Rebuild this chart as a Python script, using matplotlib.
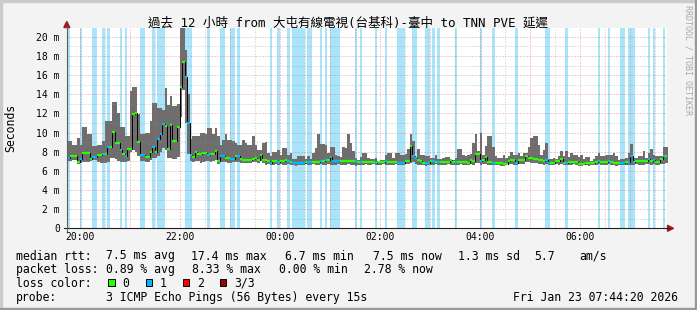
import numpy as np
from matplotlib import pyplot as plt
from matplotlib.patches import Polygon, Rectangle
from matplotlib.lines import Line2D

plt.rcParams['font.family'] = ['DejaVu Sans Mono', 'Noto Sans CJK TC']
plt.rcParams['lines.scale_dashes'] = False

W, H = 697, 310

# 3 minute steps, first step starts 19:45 (hours relative to 20:00), values in ms
t_first = -0.25
step_h = 0.05
rtt_hi = [
    9.1, 9.1, 8.7, 8.7, 9.4, 8.7, 10.6, 10.6, 9.8, 9.8,
    8.6, 8.6, 8.7, 8.7, 9.1, 11.2, 11.2, 11.2, 13.2, 13.2,
    12.0, 10.6, 10.6, 9.6, 9.6, 14.3, 14.8, 14.8, 11.9, 9.8,
    9.8, 10.0, 10.0, 11.2, 13.1, 13.1, 12.6, 12.6, 12.4, 14.7,
    12.9, 13.8, 12.8, 12.8, 13.0, 21.5, 21.5, 18.6, 14.0, 9.3,
    9.6, 9.6, 9.6, 10.0, 10.0, 9.8, 10.5, 10.5, 9.9, 10.5,
    9.6, 8.7, 9.2, 9.9, 9.2, 9.2, 9.1, 8.9, 8.7, 8.7,
    9.2, 8.9, 8.7, 8.7, 9.6, 8.7, 8.2, 8.2, 8.9, 9.0,
    7.9, 7.5, 8.0, 8.0, 8.2, 7.7, 8.4, 8.4, 7.7, 7.9,
    7.2, 7.2, 7.5, 7.6, 7.6, 7.2, 7.5, 7.2, 7.9, 8.4,
    9.9, 8.8, 8.8, 8.7, 7.9, 8.5, 8.5, 7.7, 7.5, 7.4,
    8.5, 8.4, 9.9, 8.9, 8.1, 7.3, 7.1, 7.4, 7.9, 7.9,
    7.3, 7.2, 7.2, 7.3, 7.0, 7.1, 7.1, 7.7, 7.9, 7.9,
    7.3, 7.9, 7.9, 7.7, 7.7, 7.8, 8.3, 9.8, 9.1, 7.3,
    8.3, 7.7, 7.7, 7.5, 7.5, 7.3, 7.3, 7.7, 7.2, 7.2,
    7.3, 7.4, 7.4, 7.2, 7.1, 7.3, 8.3, 8.3, 7.7, 7.6,
    7.7, 7.8, 8.9, 9.8, 8.1, 10.0, 7.7, 8.6, 9.6, 9.6,
    8.5, 7.5, 7.3, 7.3, 7.7, 7.3, 7.6, 8.0, 7.7, 7.7,
    7.9, 7.5, 7.9, 7.9, 8.5, 9.4, 9.6, 9.6, 8.7, 7.7,
    8.2, 8.9, 7.2, 7.2, 7.3, 7.2, 7.6, 8.1, 7.5, 8.1,
    7.4, 7.9, 7.7, 7.7, 7.4, 7.7, 7.2, 7.4, 7.4, 7.0,
    7.2, 7.6, 7.9, 7.5, 7.5, 7.7, 7.7, 7.7, 7.9, 7.5,
    7.1, 7.2, 7.2, 7.3, 7.9, 8.8, 7.3, 7.3, 7.5, 7.5,
    8.1, 7.3, 7.9, 8.3, 7.7, 7.6, 7.5, 7.5, 8.5, 8.5,
]
rtt_med = [
    7.3, 7.5, 7.5, 7.5, 6.9, 7.2, 7.9, 7.9, 7.9, 7.2,
    7.45, 7.45, 7.7, 7.7, 7.75, 7.75, 8.5, 8.5, 10.1, 8.9,
    8.9, 8.2, 7.75, 7.5, 8.3, 8.3, 11.9, 12.0, 9.0, 7.7,
    7.7, 7.4, 7.4, 8.0, 8.5, 8.0, 9.3, 9.9, 10.9, 10.7,
    8.3, 10.8, 9.1, 9.1, 10.6, 14.8, 17.4, 15.8, 11.0, 7.7,
    7.45, 8.0, 7.75, 7.75, 7.9, 7.9, 7.7, 7.75, 7.75, 8.1,
    7.0, 7.5, 7.5, 7.35, 7.35, 7.2, 7.2, 7.5, 7.5, 7.2,
    7.15, 7.15, 7.15, 7.15, 7.2, 7.35, 7.15, 7.7, 7.15, 7.1,
    7.0, 6.82, 7.0, 7.0, 6.9, 7.0, 7.0, 7.1, 7.0, 6.9,
    6.82, 6.82, 6.82, 6.82, 6.82, 6.9, 6.9, 6.9, 6.9, 6.9,
    6.9, 7.0, 7.0, 7.15, 7.15, 7.45, 7.0, 7.0, 7.0, 7.0,
    7.0, 7.0, 7.0, 7.0, 7.0, 7.0, 6.9, 6.9, 6.9, 6.9,
    6.9, 6.9, 6.9, 6.82, 6.9, 6.9, 6.9, 7.0, 6.9, 6.9,
    6.9, 6.9, 6.82, 6.82, 6.82, 7.0, 7.0, 8.6, 7.6, 7.35,
    7.1, 7.0, 6.82, 6.82, 6.82, 7.05, 7.0, 6.9, 6.9, 6.9,
    6.9, 6.9, 6.9, 7.15, 6.9, 6.9, 6.9, 6.9, 6.9, 6.9,
    6.82, 7.16, 7.0, 7.8, 7.8, 7.0, 7.16, 7.44, 6.89, 6.89,
    6.82, 6.82, 6.82, 6.82, 6.75, 6.75, 6.99, 7.16, 7.1, 6.82,
    7.1, 7.1, 7.1, 7.5, 7.35, 7.35, 7.25, 7.25, 7.16, 7.16,
    7.0, 7.1, 6.82, 6.82, 6.82, 7.0, 7.0, 7.25, 6.82, 6.82,
    6.89, 6.89, 6.89, 6.89, 6.75, 6.75, 6.75, 6.8, 6.8, 6.8,
    6.8, 6.89, 6.99, 6.89, 6.89, 6.89, 6.99, 6.89, 6.82, 6.82,
    6.82, 6.82, 6.82, 6.89, 6.89, 7.6, 6.89, 6.99, 6.99, 6.99,
    6.99, 6.99, 7.2, 6.99, 7.1, 6.89, 6.89, 7.2, 7.5, 7.5,
]
rtt_lo = [
    7.0, 7.0, 7.1, 7.1, 6.7, 6.8, 6.9, 6.9, 6.9, 7.0,
    7.1, 7.1, 6.9, 6.8, 6.8, 6.8, 6.9, 7.3, 7.3, 7.2,
    7.0, 6.9, 6.9, 6.9, 7.0, 8.0, 8.2, 8.0, 7.6, 7.0,
    7.0, 6.9, 6.9, 7.1, 7.3, 7.3, 7.6, 8.0, 8.4, 8.2,
    7.3, 7.3, 7.2, 7.2, 7.4, 11.6, 14.4, 11.0, 7.8, 7.0,
    6.9, 7.0, 7.0, 6.8, 6.9, 7.0, 7.0, 6.9, 7.0, 7.1,
    6.7, 6.9, 6.9, 6.9, 6.8, 6.8, 6.9, 6.9, 6.9, 6.8,
    6.8, 6.8, 6.8, 6.8, 6.9, 6.9, 6.8, 7.0, 6.8, 6.6,
    6.7, 6.6, 6.6, 6.7, 6.6, 6.7, 6.6, 6.6, 6.7, 6.6,
    6.6, 6.5, 6.6, 6.6, 6.6, 6.7, 6.6, 6.6, 6.7, 6.6,
    6.6, 6.7, 6.6, 6.6, 6.7, 6.6, 6.6, 6.6, 6.7, 6.6,
    6.6, 6.6, 6.7, 6.6, 6.6, 6.5, 6.6, 6.6, 6.6, 6.7,
    6.6, 6.6, 6.7, 6.6, 6.6, 6.6, 6.7, 6.6, 6.6, 6.6,
    6.6, 6.7, 6.6, 6.6, 6.6, 6.7, 6.7, 6.8, 6.9, 6.7,
    6.6, 6.6, 6.6, 6.5, 6.6, 6.6, 6.6, 6.7, 6.6, 6.6,
    6.6, 6.6, 6.7, 6.6, 6.6, 6.6, 6.6, 6.7, 6.6, 6.6,
    6.6, 6.7, 6.6, 6.8, 6.8, 6.6, 6.7, 6.7, 6.6, 6.6,
    6.6, 6.6, 6.6, 6.5, 6.5, 6.6, 6.7, 6.7, 6.6, 6.6,
    6.7, 6.7, 6.7, 6.9, 6.9, 6.8, 6.8, 6.8, 6.7, 6.7,
    6.6, 6.7, 6.6, 6.6, 6.6, 6.7, 6.6, 6.7, 6.6, 6.6,
    6.6, 6.6, 6.7, 6.6, 6.5, 6.5, 6.6, 6.6, 6.5, 6.6,
    6.6, 6.6, 6.7, 6.6, 6.6, 6.6, 6.7, 6.6, 6.6, 6.5,
    6.6, 6.6, 6.6, 6.6, 6.6, 6.6, 6.6, 6.7, 6.6, 6.6,
    6.6, 6.7, 6.7, 6.6, 6.7, 6.6, 6.6, 6.7, 6.7, 6.8,
]
# steps where 1 of 3 pings was lost
loss_steps = [0, 5, 10, 11, 14, 16, 21, 23, 29, 30, 34, 36, 37, 38, 47, 48, 49,
              56, 61, 62, 65, 66, 68, 81, 84, 88, 90, 91, 92, 93, 94, 96, 97,
              101, 103, 105, 106, 107, 108, 115, 117, 123, 127, 132, 133, 134,
              138, 139, 143, 144, 146, 148, 155, 165, 170, 179, 191, 192, 199,
              212, 216, 221, 222, 224, 225, 226, 232, 234, 238]
hour_ticks = [0, 2, 4, 6, 8, 10]
hour_labels = ['20:00', '22:00', '00:00', '02:00', '04:00', '06:00']

title = '過去 12 小時 from 大屯有線電視(台基科)-臺中 to TNN PVE 延遲'
stats_rtt = ['7.5 ms avg', '17.4 ms max', '6.7 ms min', '7.5 ms now', '1.3 ms sd', '5.7', 'am/s']
stats_loss = ['0.89 % avg', '8.33 % max', '0.00 % min', '2.78 % now']
loss_names = ['0', '1', '2', '3/3']
loss_colors = ['#26ff00', '#00b8ff', '#ff0000', '#a00000']


def fx(px):
    return px / W


def fy(py):
    return 1 - py / H


fig = plt.figure(figsize=(W / 100, H / 100), dpi=100)
fig.patch.set_facecolor('#f3f3f3')
ax = fig.add_axes([fx(66.8), fy(228.3), fx(667) - fx(66.8), fy(27.5) - fy(228.3)])
ax.set_facecolor('white')

x = np.arange(len(rtt_med)) * step_h + t_first
xe = np.append(x, x[-1] + step_h)
hi = np.append(rtt_hi, rtt_hi[-1])
lo = np.append(rtt_lo, rtt_lo[-1])
med = np.append(rtt_med, rtt_med[-1])

for k in loss_steps:
    ax.axvspan(x[k], x[k] + step_h, color='#aae4fa', lw=0, zorder=1)

ax.fill_between(xe, lo, hi, step='post', color='#6e6e6e', lw=0, zorder=2)

# grid
dash = (0.72, 1.44)
for v in range(1, 21, 2):
    ax.axhline(v, color=(0.55, 0.55, 0.55, 0.5), lw=0.72, dashes=dash, zorder=3)
for v in range(2, 21, 2):
    ax.axhline(v, color=(0.85, 0.3, 0.3, 0.55), lw=0.72, dashes=dash, zorder=3)
for h in np.arange(0.5, 12, 1.0):
    ax.axvline(h, color=(0.55, 0.55, 0.55, 0.5), lw=0.72, dashes=dash, zorder=3)
for h in range(0, 12):
    ax.axvline(h, color=(0.85, 0.3, 0.3, 0.55), lw=0.72, dashes=dash, zorder=3)

ax.step(xe, med, where='post', color='black', lw=0.7, zorder=4)
cols = [loss_colors[1] if k in loss_steps else loss_colors[0] for k in range(len(rtt_med))]
ax.hlines(rtt_med, x, x + step_h, colors=cols, lw=1.6, zorder=5)

ax.set_xlim(-0.2611, 11.7389)
ax.set_ylim(0, 20.97)
ax.set_xticks(hour_ticks, hour_labels)
ax.set_yticks(range(0, 21, 2), ['0'] + [f'{v} m' for v in range(2, 21, 2)])
ax.tick_params(axis='both', length=0, labelsize=7)
ax.tick_params(axis='y', pad=5.0)
ax.tick_params(axis='x', pad=3.0)
for s in ax.spines.values():
    s.set_visible(False)

# axes lines and arrows
fig.add_artist(Line2D([fx(63.8), fx(669)], [fy(228.3), fy(228.3)], color='#202020', lw=0.8))
fig.add_artist(Line2D([fx(66.8), fx(66.8)], [fy(231), fy(26)], color='#606060', lw=0.8))
fig.add_artist(Polygon([(fx(63.8), fy(27.5)), (fx(69.8), fy(27.5)), (fx(66.8), fy(21.5))],
                       closed=True, color='#9e1b1b', transform=fig.transFigure))
fig.add_artist(Polygon([(fx(667.5), fy(225.3)), (fx(667.5), fy(231.3)), (fx(673.5), fy(228.3))],
                       closed=True, color='#9e1b1b', transform=fig.transFigure))

# frame shading
fig.add_artist(Rectangle((0, fy(2)), 1, 2 / H, color='#cbcbcb', transform=fig.transFigure))
fig.add_artist(Rectangle((0, 0), 2 / W, 1, color='#cbcbcb', transform=fig.transFigure))
fig.add_artist(Rectangle((0, 0), 1, 2 / H, color='#999999', transform=fig.transFigure))
fig.add_artist(Rectangle((1 - 2 / W, 0), 2 / W, 1, color='#999999', transform=fig.transFigure))

fig.text(0.5, fy(26.5), title, ha='center', va='baseline', fontsize=9)
fig.text(fx(11), fy(127.5), 'Seconds', rotation=90, ha='center', va='center', fontsize=8.3)
fig.text(fx(688), fy(60), 'RRDTOOL / TOBI OETIKER', rotation=-90, ha='center', va='center',
         fontsize=6, color='#a8a8a8')

fs = 8.3
rows = [259.5, 273.2, 287.0, 300.8]
fig.text(fx(16), fy(rows[0]), 'median rtt:', fontsize=fs, va='baseline')
for px, s in zip([106.5, 190.8, 285.3, 373.3, 457.6, 534.6, 579.5], stats_rtt):
    fig.text(fx(px), fy(rows[0]), s, fontsize=fs, va='baseline')
fig.text(fx(16), fy(rows[1]), 'packet loss:', fontsize=fs, va='baseline')
for px, s in zip([106.5, 192.0, 278.6, 364.3], stats_loss):
    fig.text(fx(px), fy(rows[1]), s, fontsize=fs, va='baseline')
fig.text(fx(16), fy(rows[2]), 'loss color:', fontsize=fs, va='baseline')
for bx, tx, s, c in zip([108.3, 145.7, 182.7, 219.7], [122.5, 160.0, 197.0, 234.0], loss_names, loss_colors):
    fig.add_artist(Rectangle((fx(bx), fy(286)), 6.6 / W, 6.6 / H, facecolor=c, edgecolor='black',
                             lw=0.7, transform=fig.transFigure))
    fig.text(fx(tx), fy(rows[2]), s, fontsize=fs, va='baseline')
fig.text(fx(16), fy(rows[3]), 'probe:', fontsize=fs, va='baseline')
fig.text(fx(106.5), fy(rows[3]), '3 ICMP Echo Pings (56 Bytes) every 15s', fontsize=fs, va='baseline')
fig.text(fx(513), fy(rows[3]), 'Fri Jan 23 07:44:20 2026', fontsize=fs, va='baseline')

fig.savefig('out.png', dpi=100, facecolor=fig.get_facecolor())
